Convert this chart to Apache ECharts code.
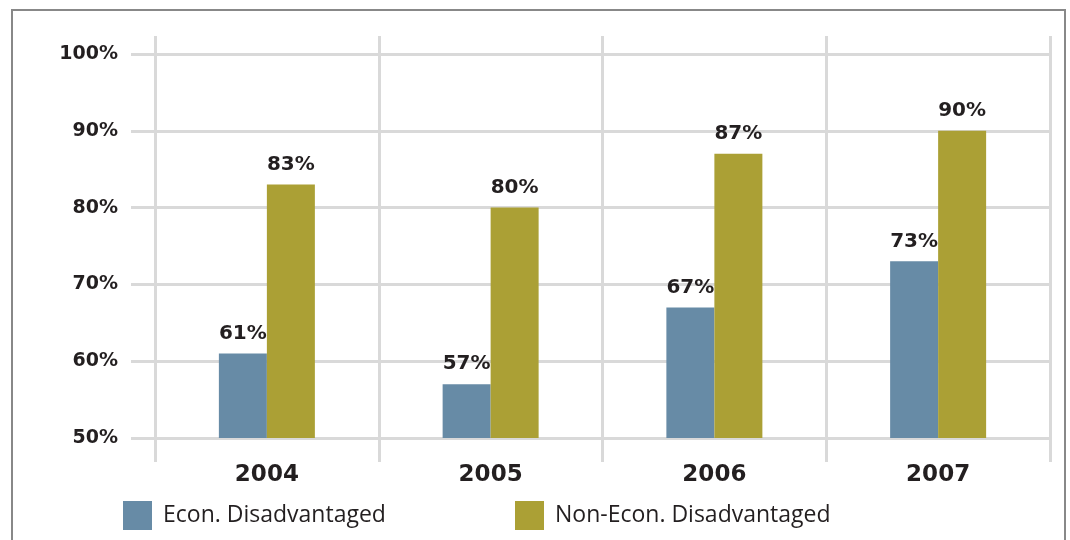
<!DOCTYPE html>
<html>
<head>
<meta charset="utf-8">
<script src="https://cdn.jsdelivr.net/npm/echarts@6/dist/echarts.min.js"></script>
<style>
  html, body { margin: 0; padding: 0; background: #fff; }
  #chart { width: 1070px; height: 540px; }
</style>
</head>
<body>
<div id="chart"></div>
<script>
// Graduation rates by year, economically disadvantaged vs. not
const years = ['2004', '2005', '2006', '2007'];
const econDisadvantaged = [61, 57, 67, 73];
const nonEconDisadvantaged = [83, 80, 87, 90];
const seriesNames = ['Econ. Disadvantaged', 'Non-Econ. Disadvantaged'];
const yTicks = { min: 50, max: 100, interval: 10 };

const GRID = '#d9d9d9';
const TEXT = '#231f20';
const BOLD_FONT = '"DejaVu Sans", sans-serif';
const FONT = '"Open Sans", sans-serif';

const chart = echarts.init(document.getElementById('chart'));

const barLabel = {
  show: true,
  position: 'top',
  distance: 10,
  formatter: p => p.value + '%',
  color: TEXT,
  fontFamily: BOLD_FONT,
  fontWeight: 'bold',
  fontSize: 20
};

const legendBase = {
  top: 501,
  padding: 0,
  itemWidth: 29, itemHeight: 29, icon: 'rect',
  textStyle: { color: TEXT, fontFamily: FONT, fontSize: 23, padding: [2, 0, 0, 6] }
};

chart.setOption({
  animation: false,
  backgroundColor: '#fff',
  graphic: [{
    type: 'rect',
    shape: { x: 12, y: 10, width: 1053, height: 600 },
    style: { fill: 'none', stroke: '#888', lineWidth: 2 },
    silent: true
  }],
  grid: { left: 155, right: 20, top: 54, bottom: 102 },
  legend: [
    Object.assign({ data: [seriesNames[0]], left: 123 }, legendBase),
    Object.assign({ data: [seriesNames[1]], left: 515 }, legendBase)
  ],
  xAxis: [
    {
      type: 'category',
      data: years,
      axisLine: { show: false },
      axisTick: { show: true, length: 24, lineStyle: { color: GRID, width: 3 } },
      splitLine: { show: true, lineStyle: { color: GRID, width: 3 } },
      axisLabel: { color: TEXT, fontFamily: BOLD_FONT, fontWeight: 'bold', fontSize: 23, margin: 26 }
    },
    {
      type: 'category',
      data: years,
      position: 'top',
      axisLine: { show: false },
      axisTick: { show: true, length: 18, lineStyle: { color: GRID, width: 3 } },
      axisLabel: { show: false }
    }
  ],
  yAxis: {
    type: 'value',
    min: yTicks.min,
    max: yTicks.max,
    interval: yTicks.interval,
    axisLine: { show: false },
    axisTick: { show: true, length: 24, lineStyle: { color: GRID, width: 3 } },
    splitLine: { show: true, lineStyle: { color: GRID, width: 3 } },
    axisLabel: {
      formatter: v => v + '%',
      color: TEXT, fontFamily: BOLD_FONT, fontWeight: 'bold', fontSize: 19, margin: 37,
      padding: [0, 0, 8, 0]
    }
  },
  series: [
    {
      name: seriesNames[0],
      type: 'bar',
      data: econDisadvantaged,
      barWidth: 48,
      barGap: '0%',
      itemStyle: { color: '#678ba6' },
      label: barLabel
    },
    {
      name: seriesNames[1],
      type: 'bar',
      data: nonEconDisadvantaged,
      barWidth: 48,
      barGap: '0%',
      itemStyle: { color: '#aba035' },
      label: barLabel
    }
  ]
});
</script>
</body>
</html>
